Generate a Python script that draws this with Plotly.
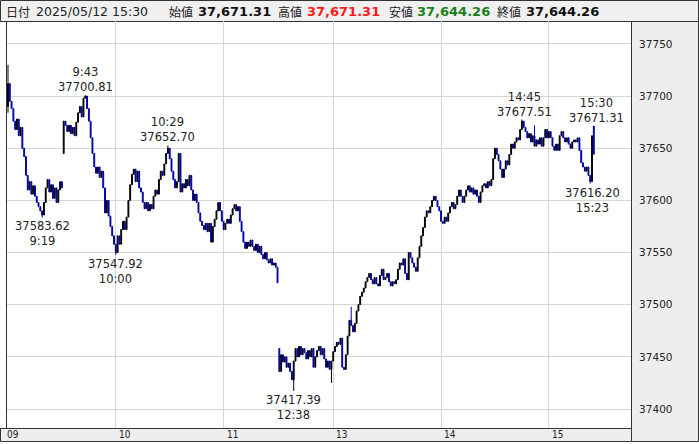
import plotly.graph_objects as go

# ---------------- data ----------------
# morning session 09:00-11:30 (1-minute bars), closes
closes_am = [
    37712, 37695, 37688, 37676, 37668, 37678, 37662, 37670, 37650, 37642,
    37624, 37610, 37618, 37606, 37614, 37604, 37598, 37594, 37590, 37586,
    37598, 37612, 37620, 37608, 37615, 37602, 37612, 37598, 37610, 37618,
    37612, 37676, 37672, 37666, 37672, 37664, 37670, 37662, 37675, 37684,
    37690, 37680, 37698, 37700, 37688, 37676, 37660, 37645, 37632, 37626,
    37632, 37622, 37628, 37612, 37588, 37600, 37585, 37575, 37566, 37558,
    37550, 37566, 37558, 37572, 37580, 37572, 37584, 37600, 37615, 37625,
    37630, 37618, 37628, 37612, 37608, 37598, 37592, 37598, 37590, 37596,
    37592, 37604, 37610, 37606, 37620, 37628, 37624, 37635, 37645, 37650,
    37640, 37628, 37620, 37612, 37618, 37645, 37608, 37616, 37612, 37620,
    37614, 37624, 37610, 37600, 37606, 37598, 37588, 37580, 37576, 37572,
    37578, 37570, 37578, 37560, 37575, 37582, 37590, 37598, 37590, 37580,
    37572, 37578, 37582, 37578, 37586, 37592, 37596, 37590, 37594, 37580,
    37570, 37560, 37554, 37560, 37556, 37562, 37556, 37552, 37558, 37550,
    37556, 37548, 37544, 37550, 37543, 37540, 37544, 37538, 37540, 37536,
    37521,
]
# afternoon session 12:30-15:24 and the 15:30 closing bar, closes
closes_pm = [
    37436, 37452, 37445, 37450, 37440, 37444, 37436, 37428, 37446, 37458,
    37450, 37460, 37452, 37458, 37454, 37448, 37456, 37450, 37458, 37440,
    37450, 37456, 37460, 37452, 37458, 37448, 37440, 37446, 37438, 37446,
    37455, 37460, 37464, 37462, 37468, 37440, 37438, 37452, 37470, 37485,
    37480, 37474, 37482, 37494, 37500, 37508, 37512, 37516, 37522, 37526,
    37530, 37524, 37520, 37526, 37520, 37518, 37528, 37534, 37524, 37526,
    37530, 37522, 37518, 37522, 37520, 37524, 37534, 37540, 37538, 37544,
    37530, 37524, 37550, 37545, 37540, 37536, 37532, 37545, 37556, 37566,
    37574, 37584, 37590, 37588, 37594, 37600, 37604, 37600, 37594, 37590,
    37580, 37578, 37584, 37580, 37588, 37594, 37598, 37592, 37596, 37604,
    37610, 37604, 37598, 37604, 37610, 37614, 37608, 37612, 37606, 37610,
    37604, 37598, 37608, 37614, 37616, 37612, 37618, 37614, 37620, 37640,
    37650, 37644, 37638, 37630, 37622, 37630, 37638, 37634, 37644, 37654,
    37650, 37656, 37660, 37658, 37668, 37676, 37670, 37666, 37660, 37664,
    37656, 37662, 37652, 37658, 37654, 37660, 37652, 37660, 37668, 37660,
    37666, 37660, 37652, 37648, 37654, 37648, 37662, 37666, 37660, 37656,
    37660, 37654, 37650, 37656, 37658, 37656, 37660, 37648, 37636, 37632,
    37628, 37632, 37624, 37618, 37662, 37644.26,
]
open_am = 37690.0
open_pm = 37458.0
open_overrides = {"09:31": 37645.0, "15:30": 37671.31}
high_overrides = {"09:00": 37730.0, "09:43": 37700.81, "10:29": 37652.70,
                  "13:10": 37498.0, "14:45": 37677.51, "14:52": 37672.0,
                  "15:30": 37671.31}
low_overrides = {"09:00": 37684.0, "09:19": 37583.62, "10:00": 37547.92,
                 "12:38": 37417.39, "12:59": 37425.0, "15:23": 37616.20,
                 "15:30": 37644.26}

# labelled extremes
mark_times = ["09:43", "09:19", "10:00", "10:29", "12:38", "14:45", "15:23", "15:30"]
mark_values = [37700.81, 37583.62, 37547.92, 37652.70, 37417.39, 37677.51, 37616.20, 37671.31]
mark_kinds = ["high", "low", "low", "high", "low", "high", "low", "high"]

grid_times = ["10:00", "11:00", "13:00", "14:00", "15:00"]
hour_labels = ["09", "10", "11", "13", "14", "15"]
hour_slots = ["09:00", "10:00", "11:00", "13:00", "14:00", "15:00"]
y_ticks = [37400, 37450, 37500, 37550, 37600, 37650, 37700, 37750]
header_date = "2025/05/12 15:30"

# ---------------- build bars ----------------
times_am = [f"{9 + i // 60:02d}:{i % 60:02d}" for i in range(151)]
times_pm = [f"{12 + (30 + j) // 60:02d}:{(30 + j) % 60:02d}" for j in range(175)] + ["15:30"]
times = times_am + times_pm
closes = closes_am + closes_pm

opens = [open_am] + closes_am[:-1] + [open_pm] + closes_pm[:-1]
opens = [open_overrides.get(t, o) for t, o in zip(times, opens)]
highs = [high_overrides.get(t, max(o, c)) for t, o, c in zip(times, opens, closes)]
lows = [low_overrides.get(t, min(o, c)) for t, o, c in zip(times, opens, closes)]

# ---------------- geometry ----------------
W, H = 699, 444
PL, PR, PT, PB = 7, 631, 21, 428


def px(x):
    return (x - PL) / (PR - PL)


def py(y):
    return (PB - y) / (PB - PT)


fig = go.Figure(go.Candlestick(
    x=times, open=opens, high=highs, low=lows, close=closes,
    increasing=dict(line=dict(color="#000000", width=1), fillcolor="#000000"),
    decreasing=dict(line=dict(color="#0000a0", width=1), fillcolor="#0000a0"),
    whiskerwidth=0,
))

GRID = "#d6d6d6"
FRAME = "#333333"
PANEL = "#eeeeee"

fig.update_layout(
    width=W, height=H,
    margin=dict(l=PL, r=W - PR, t=PT, b=H - PB, pad=0),
    paper_bgcolor="white", plot_bgcolor="white",
    showlegend=False,
    xaxis=dict(type="category", range=[-0.55, 346.7], rangeslider=dict(visible=False),
               showgrid=True, gridcolor=GRID, gridwidth=1, tickvals=grid_times,
               showticklabels=False, ticks="", zeroline=False, showline=False),
    yaxis=dict(side="right", range=[37381.8, 37772.0], tickvals=y_ticks, tickformat="d",
               showgrid=True, gridcolor=GRID, gridwidth=1, zeroline=False, showline=False,
               ticks="outside", ticklen=5, tickcolor="rgba(0,0,0,0)",
               tickfont=dict(family="DejaVu Sans", size=10.5, color="#222222")),
)

shapes = [
    # header box
    dict(type="rect", xref="paper", yref="paper", x0=px(0.5), x1=px(698.5), y0=py(21.5), y1=py(0.5),
         fillcolor="#f0f0f0", line=dict(color=FRAME, width=1), layer="below"),
    # right value panel
    dict(type="rect", xref="paper", yref="paper", x0=px(631.5), x1=px(698.5), y0=py(441.5), y1=py(21.5),
         fillcolor=PANEL, line=dict(color=FRAME, width=1), layer="below"),
    # bottom time band
    dict(type="rect", xref="paper", yref="paper", x0=px(0.5), x1=px(631.5), y0=py(441.5), y1=py(428.5),
         fillcolor=PANEL, line=dict(color=FRAME, width=1), layer="below"),
    # left border of chart
    dict(type="line", xref="paper", yref="paper", x0=px(6.5), x1=px(6.5), y0=py(428.5), y1=py(21.5),
         line=dict(color=FRAME, width=1), layer="below"),
]

annotations = []
# header segments: (text, left x px, colour, bold)
fmt = lambda v: f"{v:,.2f}"
last = len(times) - 1
CJK = "Noto Sans CJK JP"
LAT = "DejaVu Sans"
header = [
    ("日付", 5, "#222222", False, CJK, 12),
    (header_date, 35, "#222222", False, LAT, 12.5),
    ("始値", 168, "#222222", False, CJK, 12),
    (fmt(opens[last]), 197, "#111111", True, LAT, 13),
    ("高値", 277, "#222222", False, CJK, 12),
    (fmt(highs[last]), 306, "#ff1a1a", True, LAT, 13),
    ("安値", 388, "#222222", False, CJK, 12),
    (fmt(lows[last]), 416, "#1a7f1a", True, LAT, 13),
    ("終値", 496, "#222222", False, CJK, 12),
    (fmt(closes[last]), 525, "#111111", True, LAT, 13),
]
for txt, x, col, bold, fam, size in header:
    annotations.append(dict(
        xref="paper", yref="paper", x=px(x), y=py(11.5), xanchor="left", yanchor="middle",
        text=f"<b>{txt}</b>" if bold else txt, showarrow=False, borderpad=0,
        font=dict(family=fam, size=size, color=col)))

# hour labels under the chart
for lab, t in zip(hour_labels, hour_slots):
    annotations.append(dict(
        xref="x", yref="paper", x=t, y=py(434.5), xanchor="left", yanchor="middle",
        xshift=1 if t != "09:00" else -3, text=lab, showarrow=False,
        font=dict(family="DejaVu Sans Condensed", size=10, color="#222222")))

# extreme labels
shift_x = {"14:45": 3, "15:23": 2, "15:30": 3}
for t, v, k in zip(mark_times, mark_values, mark_kinds):
    tt = t.lstrip("0")
    txt = f"{tt}<br>{v:.2f}" if k == "high" else f"{v:.2f}<br>{tt}"
    annotations.append(dict(
        xref="x", yref="y", x=t, y=v, xanchor="center",
        yanchor="bottom" if k == "high" else "top",
        yshift=0 if k == "high" else -1, xshift=shift_x.get(t, 0),
        text=txt, showarrow=False, borderpad=0,
        font=dict(family="DejaVu Sans", size=11.5, color="#222222")))

fig.update_layout(shapes=shapes, annotations=annotations)
fig.write_html("out.html", config={"displayModeBar": False},
               post_script="document.body.style.margin='0';")
